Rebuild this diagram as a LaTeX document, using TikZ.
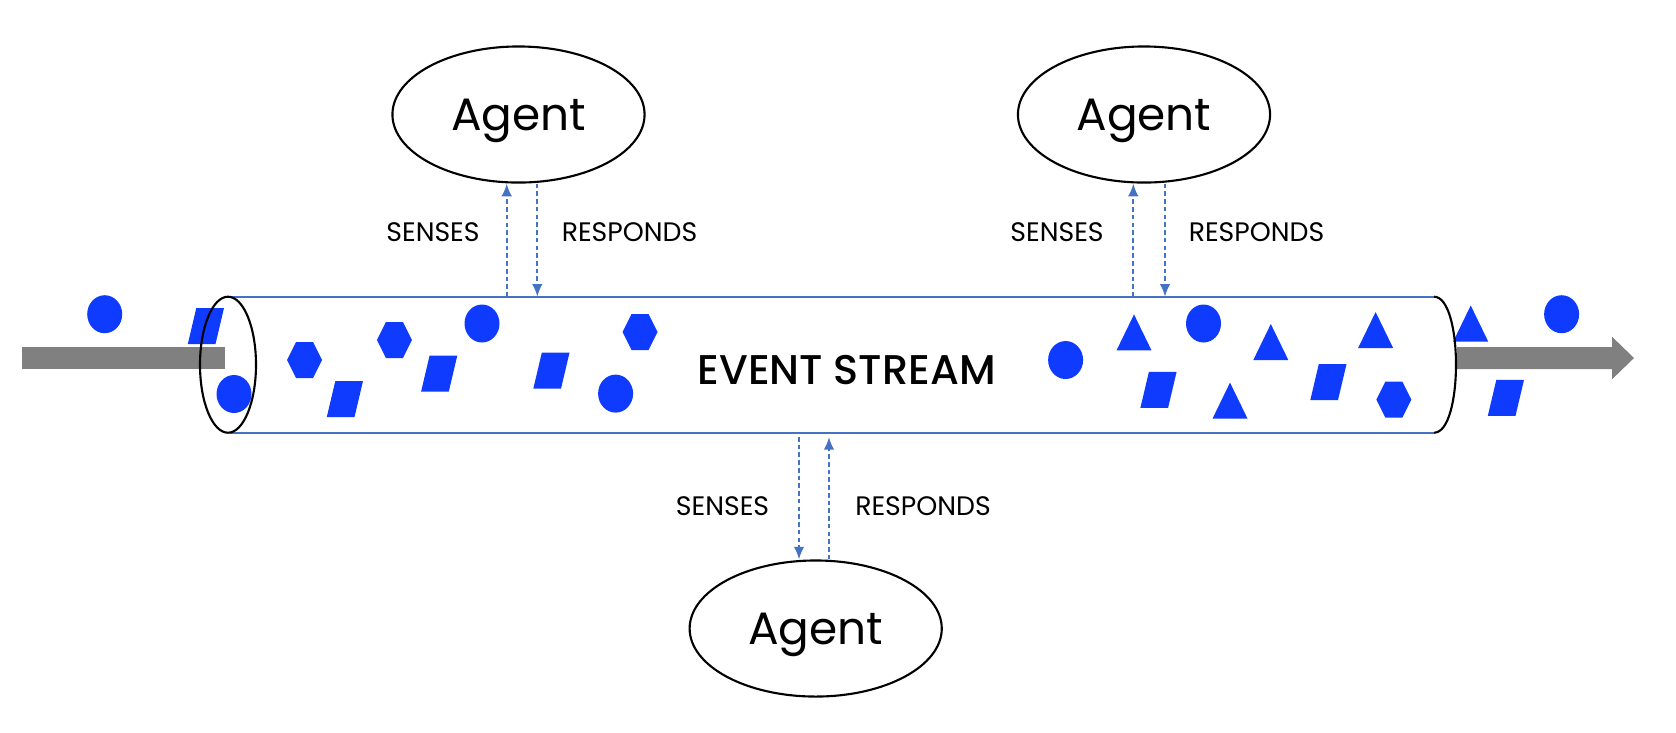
\documentclass[tikz,border=0pt]{standalone}
\usepackage{fontspec}
\setmainfont{Poppins}
\newfontfamily\streamfont{Poppins}[UprightFont={* Medium}]
\usetikzlibrary{shapes, arrows.meta}
\definecolor{evblue}{RGB}{15,59,255}
\definecolor{pipe}{RGB}{68,114,196}
\definecolor{flowgray}{RGB}{128,128,128}
\tikzstyle{agent} = [draw, ellipse, line width=0.6pt, minimum width=2.52cm, minimum height=1.36cm, inner sep=0pt, text depth=0pt, font=\fontsize{12.9}{14}\selectfont]
\tikzstyle{lbl} = [inner sep=0pt, font=\fontsize{7.6}{9}\selectfont]
\tikzstyle{flow} = [draw=pipe, line width=0.55pt, dash pattern=on 1.3pt off 0.9pt]
\newcommand{\evdot}[1]{\fill[evblue] (#1) ellipse (17.5 and 19);}
\newcommand{\evpara}[1]{\fill[evblue] (#1) ++(-9.7,-18) -- ++(27.7,0) -- ++(-8.5,36) -- ++(-27.7,0) -- cycle;}
\newcommand{\evhex}[1]{\fill[evblue] (#1) ++(-17.5,0) -- ++(9,-18) -- ++(17,0) -- ++(9,18) -- ++(-9,18) -- ++(-17,0) -- cycle;}
\newcommand{\evtri}[1]{\fill[evblue] (#1) ++(0,-18) -- ++(17.5,36) -- ++(-35,0) -- cycle;}

\begin{document}
\begin{tikzpicture}[x=0.01cm, y=-0.01cm, >={Latex[length=3.6pt,width=3pt]}]
  \useasboundingbox (0,0) rectangle (1676,732);
  % gray flow in and out
  \fill[flowgray] (22,347) rectangle (225,369);
  \fill[flowgray] (1457,347) -- (1612,347) -- (1612,336.7) -- (1634,358) -- (1612,379.3) -- (1612,369) -- (1457,369) -- cycle;
  % events
  \evdot{104.7,314.2}
  \evpara{206,326}
  \evdot{234,394}
  \evhex{304.6,360}
  \evpara{345,399}
  \evhex{394.4,340}
  \evpara{439.3,373.5}
  \evdot{482,323.5}
  \evpara{551.5,370.7}
  \evhex{640,332}
  \evdot{615.6,393.6}
  \evdot{1065.6,360}
  \evtri{1134,332.4}
  \evdot{1203.5,323.5}
  \evpara{1158.6,389.8}
  \evtri{1270.8,342}
  \evtri{1230,400.6}
  \evtri{1375.6,330}
  \evpara{1328.5,382}
  \evhex{1393.8,399.6}
  \evtri{1470.7,323.5}
  \evdot{1561.6,314.2}
  \evpara{1506,397.8}
  % the pipe
  \coordinate (tl) at (230,296.7);
  \coordinate (tr) at (1434,296.7);
  \coordinate (bl) at (230,432.7);
  \coordinate (br) at (1434,432.7);
  \draw[pipe, line width=0.6pt] (tl) -- (tr);
  \draw[pipe, line width=0.6pt] (bl) -- (br);
  \draw[line width=0.6pt] (228,364.7) ellipse (28 and 68);
  \draw[line width=0.6pt] (tr) .. controls (1463.3,296.7) and (1463.3,432.7) .. (br);
  \node[inner sep=0pt, font=\streamfont\fontsize{11.8}{13}\selectfont] (stream) at (846.7,369.7) {EVENT STREAM};
  % agents
  \node[agent] (a1) at (518.5,114.5) {Agent};
  \node[agent] (a2) at (1144,114.5) {Agent};
  \node[agent] (a3) at (815.7,628.5) {Agent};
  \coordinate (s1) at (506.7,296.7);
  \coordinate (r1) at (537.3,296.7);
  \coordinate (s2) at (1133.3,296.7);
  \coordinate (r2) at (1165,296.7);
  \coordinate (s3) at (799,437);
  \coordinate (r3) at (829,437);
  \draw[flow,->] (s1) -- (s1 |- a1.south);
  \draw[flow,->] (r1 |- a1.south) -- (r1);
  \draw[flow,->] (s2) -- (s2 |- a2.south);
  \draw[flow,->] (r2 |- a2.south) -- (r2);
  \draw[flow,->] (s3) -- (s3 |- a3.north);
  \draw[flow,->] (r3 |- a3.north) -- (r3);
  \node[lbl] (ls1) at (433,232.5) {SENSES};
  \node[lbl] (lr1) at (629.5,232.5) {RESPONDS};
  \node[lbl] (ls2) at (1057,232.5) {SENSES};
  \node[lbl] (lr2) at (1256.5,232.5) {RESPONDS};
  \node[lbl] (ls3) at (722.5,506.5) {SENSES};
  \node[lbl] (lr3) at (923,506.5) {RESPONDS};
\end{tikzpicture}
\end{document}
